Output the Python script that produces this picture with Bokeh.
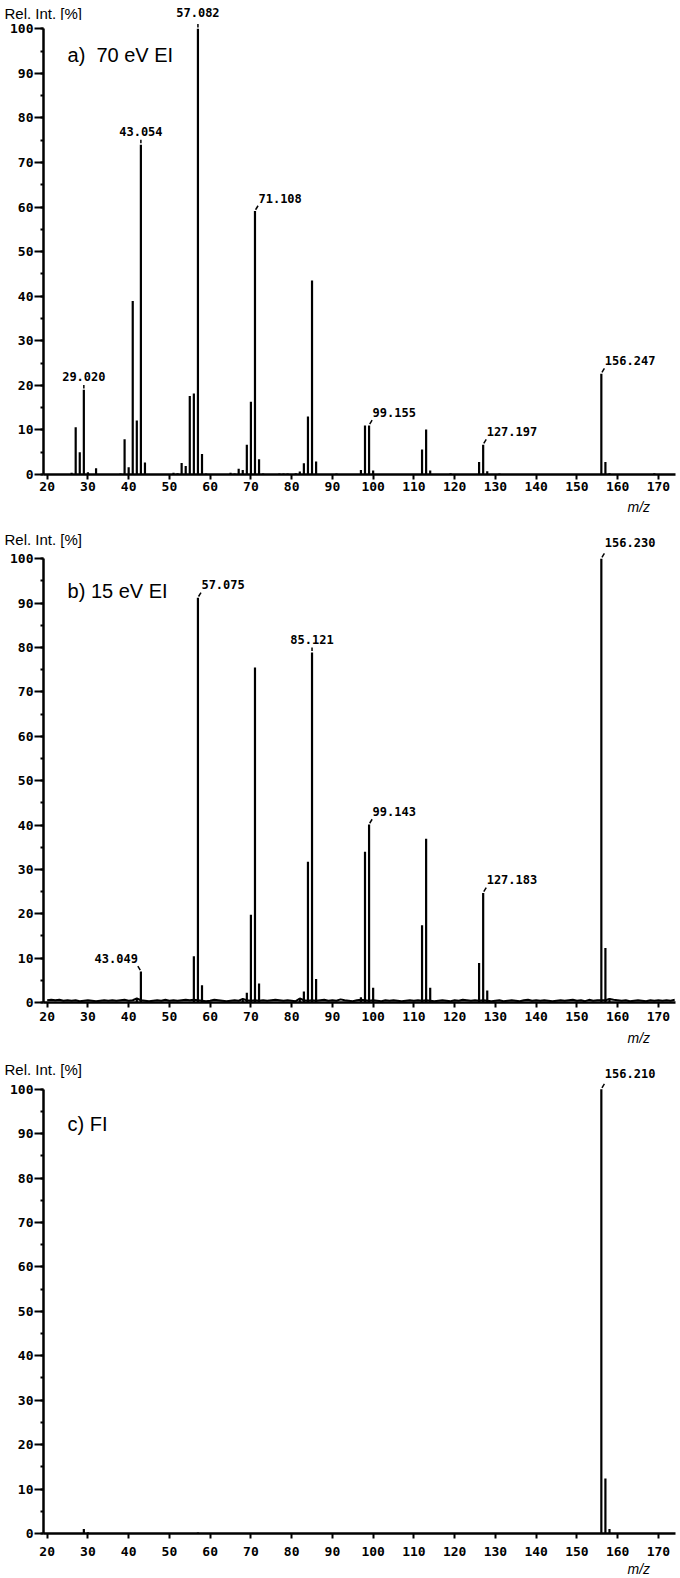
import numpy as np
from bokeh.plotting import figure
from bokeh.models import Range1d, SingleIntervalTicker, Label, LabelSet, ColumnDataSource, Title
from bokeh.layouts import column
from bokeh.embed import file_html
from bokeh.resources import INLINE
from bokeh.core.properties import value

# ---------------- data ----------------
# a) 70 eV EI
mz_a = [26, 27, 28, 29, 30, 32, 38, 39, 40, 41, 42, 43, 44, 51, 52, 53, 54, 55, 56, 57, 58, 59,
        65, 66, 67, 68, 69, 70, 71, 72, 73, 77, 78, 79, 81, 82, 83, 84, 85, 86, 91,
        97, 98, 99, 100, 112, 113, 114, 119, 126, 127, 128, 131, 141, 156, 157, 158, 169]
int_a = [0.4, 10.6, 5.0, 19.0, 0.5, 1.4, 0.2, 7.9, 1.6, 38.9, 12.1, 74.0, 2.7, 0.4, 0.3, 2.6, 1.9, 17.6, 18.2, 100.0, 4.6, 0.2,
         0.4, 0.2, 1.3, 1.0, 6.7, 16.3, 59.1, 3.4, 0.2, 0.2, 0.2, 0.2, 0.3, 0.7, 2.5, 13.0, 43.5, 2.9, 0.2,
         1.0, 11.0, 11.0, 0.9, 5.6, 10.1, 0.9, 0.3, 2.8, 6.7, 0.75, 0.2, 0.1, 22.6, 2.8, 0.3, 0.3]
lab_a_mz = [29, 43, 57, 71, 99, 127, 156]
lab_a_int = [19.0, 74.0, 100.0, 59.1, 11.0, 6.7, 22.6]
lab_a_txt = ["29.020", "43.054", "57.082", "71.108", "99.155", "127.197", "156.247"]
lab_a_side = ["c", "c", "c", "r", "r", "r", "r"]

# b) 15 eV EI
mz_b = [42, 43, 56, 57, 58, 68, 69, 70, 71, 72, 82, 83, 84, 85, 86, 97, 98, 99, 100,
        112, 113, 114, 126, 127, 128, 156, 157, 158]
int_b = [0.9, 7.0, 10.4, 91.2, 3.9, 0.8, 2.2, 19.8, 75.5, 4.3, 0.9, 2.5, 31.7, 78.9, 5.3, 1.2, 34.0, 40.1, 3.3,
         17.4, 36.9, 3.3, 8.9, 24.7, 2.7, 100.0, 12.3, 0.9]
noise_b_mz = list(range(20, 175))
noise_b_int = [0.5, 0.6, 0.5, 0.6, 0.4, 0.5, 0.4, 0.5, 0.3, 0.4,
               0.5, 0.4, 0.3, 0.4, 0.5, 0.4, 0.5, 0.4, 0.5, 0.6,
               0.4, 0.5, 0.9, 0.5, 0.4, 0.3, 0.4, 0.5, 0.4, 0.6,
               0.4, 0.5, 0.4, 0.5, 0.6, 0.5, 0.6, 0.5, 0.4, 0.3,
               0.4, 0.6, 0.5, 0.4, 0.3, 0.4, 0.5, 0.4, 0.8, 0.5,
               0.4, 0.5, 0.4, 0.5, 0.4, 0.5, 0.6, 0.5, 0.4, 0.5,
               0.4, 0.3, 0.9, 0.5, 0.4, 0.5, 0.4, 0.5, 0.6, 0.4,
               0.5, 0.4, 0.7, 0.5, 0.4, 0.3, 0.5, 0.6, 0.5, 0.4,
               0.5, 0.4, 0.3, 0.5, 0.4, 0.5, 0.4, 0.3, 0.4, 0.5,
               0.4, 0.5, 0.4, 0.5, 0.4, 0.3, 0.4, 0.5, 0.4, 0.3,
               0.5, 0.4, 0.6, 0.5, 0.4, 0.5, 0.4, 0.5, 0.4, 0.3,
               0.4, 0.5, 0.3, 0.4, 0.5, 0.4, 0.3, 0.5, 0.6, 0.4,
               0.5, 0.4, 0.5, 0.4, 0.3, 0.4, 0.5, 0.4, 0.5, 0.6,
               0.4, 0.5, 0.3, 0.6, 0.4, 0.5, 0.5, 0.5, 0.8, 0.6,
               0.5, 0.4, 0.5, 0.3, 0.4, 0.5, 0.4, 0.3, 0.5, 0.4,
               0.5, 0.4, 0.5, 0.4, 0.6]
lab_b_mz = [43, 57, 85, 99, 127, 156]
lab_b_int = [7.0, 91.2, 78.9, 40.1, 24.7, 100.0]
lab_b_txt = ["43.049", "57.075", "85.121", "99.143", "127.183", "156.230"]
lab_b_side = ["l", "r", "c", "r", "r", "r"]

# c) FI
mz_c = [29, 30, 57, 156, 157, 158]
int_c = [1.0, 0.3, 0.2, 100.0, 12.4, 1.0]
lab_c_mz = [156]
lab_c_int = [100.0]
lab_c_txt = ["156.210"]
lab_c_side = ["r"]

x_ticks_interval = 10
y_ticks_interval = 10

TICK_FONT = "DejaVu Sans Mono"
SANS = "Liberation Sans"
X0, X1 = 19.1, 174.2
FW, BL, BR = 632, 43, 5
PPX = FW / (X1 - X0)
ALIGN = {"c": ("center", 0), "r": ("left", 3.5), "l": ("right", -3)}
TOP_ROW = 95  # labels of peaks above this go in the strip above the frame


def add_labels(p, xs, ys, ts, sides, yo):
    for s, (align, xo) in ALIGN.items():
        sel = [i for i, v in enumerate(sides) if v == s]
        if not sel:
            continue
        src = ColumnDataSource(dict(x=[xs[i] for i in sel], y=[ys[i] for i in sel],
                                    t=[ts[i] for i in sel]))
        p.add_layout(LabelSet(x="x", y="y", text="t", source=src, x_offset=xo, y_offset=yo,
                              text_align=align, text_baseline="alphabetic",
                              text_font=value(TICK_FONT), text_font_style="bold",
                              text_font_size="12px", text_color="black"))


def make_strip(h, title_from_top, lmz, lint, ltxt, lside, y_end, frame_h):
    s = figure(frame_width=BL + FW + BR, frame_height=h,
               x_range=Range1d(X0 - BL / PPX, X1 + BR / PPX), y_range=Range1d(0, h),
               x_axis_location=None, y_axis_location=None,
               output_backend="svg", toolbar_location=None, frame_align=False,
               min_border_left=0, min_border_right=0, min_border_top=0, min_border_bottom=0)
    s.outline_line_color = None
    s.grid.visible = False
    s.add_layout(Label(x=X0 - (BL - 4) / PPX, y=h - title_from_top, text="Rel. Int. [%]",
                       text_font=SANS, text_font_size="15px", text_align="left",
                       text_baseline="middle", text_color="black"))
    ppy = frame_h / y_end
    sel = [i for i, v in enumerate(lint) if v > TOP_ROW]
    add_labels(s, [lmz[i] for i in sel], [-(y_end - lint[i]) * ppy for i in sel],
               [ltxt[i] for i in sel], [lside[i] for i in sel], 11.5)
    return s


def make_panel(mz, inten, lmz, lint, ltxt, lside, tag, y_end, frame_h, bottom,
               x_standoff, tag_y, mz_standoff, noise=None):
    p = figure(frame_width=FW, frame_height=frame_h,
               x_range=Range1d(X0, X1), y_range=Range1d(0, y_end),
               output_backend="svg", toolbar_location=None, frame_align=False,
               min_border_left=BL, min_border_right=BR,
               min_border_top=0, min_border_bottom=bottom)
    p.outline_line_color = None
    p.grid.visible = False

    ya = p.yaxis[0]
    ya.ticker = SingleIntervalTicker(interval=y_ticks_interval, num_minor_ticks=2)
    ya.bounds = (0, 100)
    ya.axis_line_width = 2.5
    ya.major_tick_line_width = 2
    ya.minor_tick_line_width = 2
    ya.major_tick_out = 9
    ya.major_tick_in = 0
    ya.minor_tick_out = 3
    ya.minor_tick_in = 0
    ya.major_label_standoff = 1
    ya.major_label_text_font = TICK_FONT
    ya.major_label_text_font_style = "bold"
    ya.major_label_text_font_size = "13px"
    ya.major_label_text_color = "black"

    xa = p.xaxis[0]
    xa.ticker = SingleIntervalTicker(interval=x_ticks_interval, num_minor_ticks=0)
    xa.axis_line_width = 2.5
    xa.major_tick_line_width = 2
    xa.major_tick_out = 5
    xa.major_tick_in = 0
    xa.minor_tick_out = 0
    xa.minor_tick_in = 0
    xa.major_label_standoff = x_standoff
    xa.major_label_text_font = TICK_FONT
    xa.major_label_text_font_style = "bold"
    xa.major_label_text_font_size = "13px"
    xa.major_label_text_color = "black"

    if noise is not None:
        p.line(noise[0], noise[1], line_color="black", line_width=2)

    p.segment(x0=mz, y0=0, x1=mz, y1=inten, line_color="black", line_width=2.2)

    # connectors between peak tops and their labels
    side = np.array(lside)
    lm = np.array(lmz, dtype=float)
    li = np.array(lint, dtype=float)
    sgn = np.where(side == "r", 1.0, np.where(side == "l", -1.0, 0.0))
    p.segment(x0=lm + 0.15 * sgn, y0=li + 0.3, x1=lm + 0.75 * sgn,
              y1=li + np.where(side == "c", 1.1, 1.2), line_color="black", line_width=1.5)

    sel = [i for i, v in enumerate(lint) if v <= TOP_ROW]
    add_labels(p, [lmz[i] for i in sel], [lint[i] for i in sel],
               [ltxt[i] for i in sel], [lside[i] for i in sel], 8.5)

    p.add_layout(Label(x=25, y=tag_y, text=tag, text_font=SANS,
                       text_font_size="20px", text_align="left", text_baseline="middle",
                       text_color="black"))
    p.add_layout(Title(text="m/z", align="left", offset=627 - BL, standoff=mz_standoff,
                       text_font=SANS, text_font_style="italic", text_font_size="14px",
                       text_color="black"), "below")
    return p


pa = make_panel(mz_a, int_a, lab_a_mz, lab_a_int, lab_a_txt, lab_a_side,
                "a) \u00a070 eV EI", 101.86, 454, 53, 2, 94.2, 7)
sa = make_strip(20, 12.5, lab_a_mz, lab_a_int, lab_a_txt, lab_a_side, 101.86, 454)
pb = make_panel(mz_b, int_b, lab_b_mz, lab_b_int, lab_b_txt, lab_b_side,
                "b) 15 eV EI", 101.87, 452, 53, 4, 92.8, 8, noise=(noise_b_mz, noise_b_int))
sb = make_strip(23, 12, lab_b_mz, lab_b_int, lab_b_txt, lab_b_side, 101.87, 452)
pc = make_panel(mz_c, int_c, lab_c_mz, lab_c_int, lab_c_txt, lab_c_side,
                "c) FI", 101.73, 452, 45, 8, 92.1, 0)
sc = make_strip(26, 14, lab_c_mz, lab_c_int, lab_c_txt, lab_c_side, 101.73, 452)

layout = column(sa, pa, sb, pb, sc, pc, spacing=0)
open("out.html", "w").write(file_html(layout, INLINE))
